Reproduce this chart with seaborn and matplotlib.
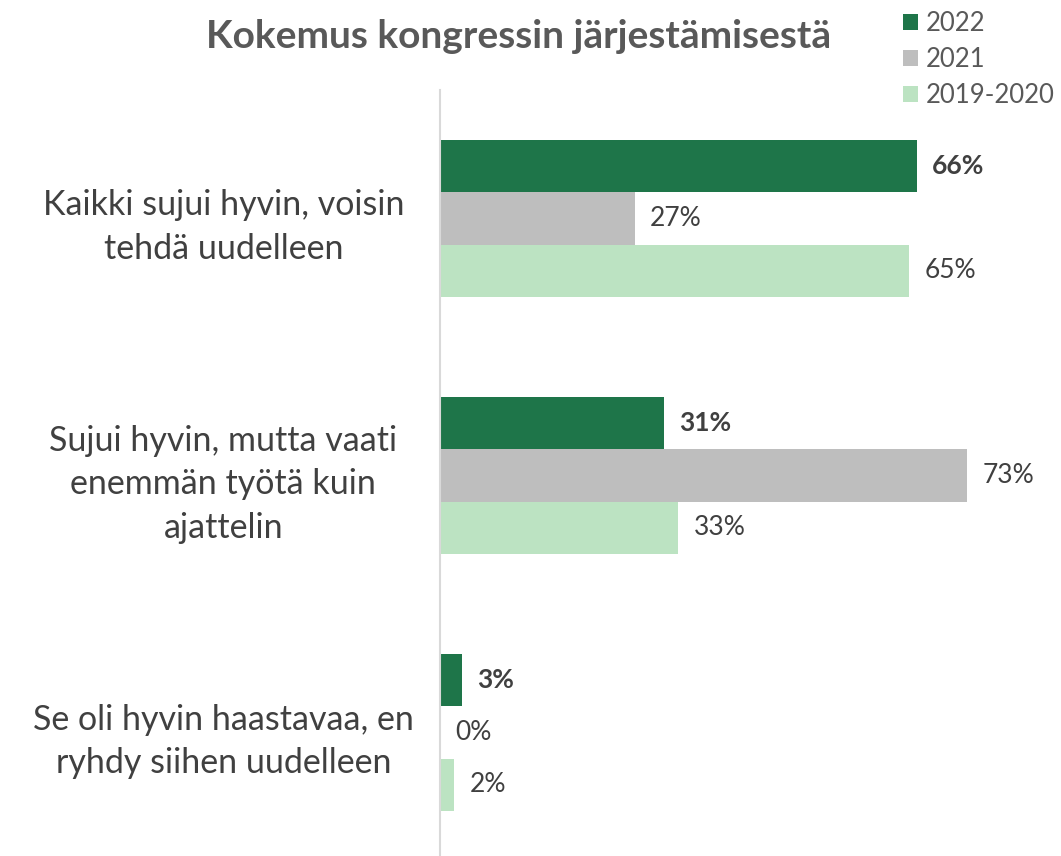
import numpy as np
import pandas as pd
import matplotlib
matplotlib.use("Agg")
import matplotlib.pyplot as plt
import seaborn as sns

# datat
kategoriat = [
    "Kaikki sujui hyvin, voisin\ntehdä uudelleen",
    "Sujui hyvin, mutta vaati\nenemmän työtä kuin\najattelin",
    "Se oli hyvin haastavaa, en\nryhdy siihen uudelleen",
]
vuodet = ["2022", "2021", "2019-2020"]
arvot_2022 = [66, 31, 3]
arvot_2021 = [27, 73, 0]
arvot_2019_2020 = [65, 33, 2]

varit = ["#1E7549", "#BEBEBE", "#BCE3C2"]

sns.set_theme(style="white")
plt.rcParams['font.family'] = ['Lato', 'DejaVu Sans']

df = pd.DataFrame({
    "Kategoria": kategoriat * 3,
    "Vuosi": [v for v in vuodet for _ in kategoriat],
    "Osuus": arvot_2022 + arvot_2021 + arvot_2019_2020,
})

fig = plt.figure(figsize=(10.61, 8.56), dpi=100)
ax = fig.add_axes([440 / 1061, -0.006, 621 / 1061, 0.901])

sns.barplot(data=df, y="Kategoria", x="Osuus", hue="Vuosi", order=kategoriat,
            hue_order=vuodet, palette=varit, orient="h", width=0.61,
            saturation=1, errorbar=None, linewidth=0, ax=ax)

# arvot palkkien perään
for i, cont in enumerate(ax.containers):
    ax.bar_label(cont, labels=[f"{v:g}%" for v in cont.datavalues], padding=11,
                 fontsize=19, color="#404040",
                 fontweight="bold" if i == 0 else "normal")

ax.set_xlim(0, 86)
ax.set_ylim(2.5, -0.5)
ax.set_xlabel("")
ax.set_ylabel("")
ax.set_xticks([])
ax.tick_params(axis="y", length=0, pad=156, labelsize=24.5, labelcolor="#404040")
for lab in ax.get_yticklabels():
    lab.set_horizontalalignment("center")
    lab.set_multialignment("center")
    lab.set_linespacing(1.45)

for s in ["top", "right", "bottom"]:
    ax.spines[s].set_visible(False)
ax.spines["left"].set_color("#D9D9D9")
ax.spines["left"].set_linewidth(1.5)

ax.legend(loc="upper left", bbox_to_anchor=(0.829, 1.014),
          bbox_transform=fig.transFigure, frameon=False, fontsize=18.5,
          handlelength=0.6, handleheight=0.6, handletextpad=0.3,
          labelspacing=0.42, labelcolor="#595959")

fig.text(0.489, 0.957, "Kokemus kongressin järjestämisestä", ha="center",
         va="center", fontsize=28, fontweight="bold", color="#595959")

fig.savefig("out.png", dpi=100)
